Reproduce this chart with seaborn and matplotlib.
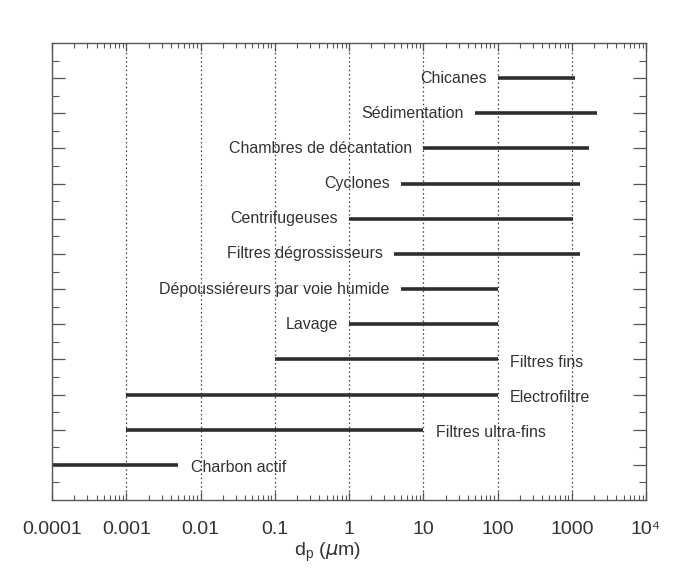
import numpy as np
import pandas as pd
import matplotlib.pyplot as plt
import seaborn as sns
from matplotlib.ticker import FixedLocator, LogLocator, NullFormatter

# Domaines d'efficacite des separateurs (diametre des particules en um)
methodes = [
    "Chicanes", "Sédimentation", "Chambres de décantation", "Cyclones",
    "Centrifugeuses", "Filtres dégrossisseurs", "Dépoussiéreurs par voie humide",
    "Lavage", "Filtres fins", "Electrofiltre", "Filtres ultra-fins", "Charbon actif",
]
dp_min = [100, 50, 10, 5, 1, 4, 5, 1, 0.1, 0.001, 0.001, 0.0001]
dp_max = [1100, 2200, 1700, 1300, 1050, 1300, 100, 100, 100, 100, 10, 0.005]
# cote de l'etiquette : g = a gauche du trait, d = a droite
cote = ["g", "g", "g", "g", "g", "g", "g", "g", "d", "d", "d", "d"]

decades = [1e-4, 1e-3, 1e-2, 1e-1, 1, 10, 100, 1000, 1e4]
labels_x = ["0.0001", "0.001", "0.01", "0.1", "1", "10", "100", "1000", "10⁴"]

n = len(methodes)
rang = np.arange(n, 0, -1)

df = pd.DataFrame({
    "methode": methodes * 2,
    "rang": list(rang) * 2,
    "dp": dp_min + dp_max,
})

sns.set_theme(style="white")
plt.rcParams["font.family"] = ["Liberation Sans", "DejaVu Sans"]
plt.rcParams["lines.solid_capstyle"] = "butt"

TRAIT = "#2e2e2e"
TEXTE = "#333333"
CADRE = "#555555"

fig = plt.figure(figsize=(6.95, 5.86), dpi=100)
ax = fig.add_axes([52 / 695, 86 / 586, 594 / 695, 457 / 586])
ax.set_xscale("log")

sns.lineplot(data=df, x="dp", y="rang", units="methode", estimator=None,
             sort=False, color=TRAIT, lw=2.6, ax=ax, legend=False)

for nom, x0, x1, y, c in zip(methodes, dp_min, dp_max, rang, cote):
    if c == "g":
        ax.annotate(nom, (x0, y), xytext=(-8, 0), textcoords="offset points",
                    ha="right", va="center", fontsize=11.5, color=TEXTE)
    else:
        ax.annotate(nom, (x1, y), xytext=(9, -2), textcoords="offset points",
                    ha="left", va="center", fontsize=11.5, color=TEXTE)

ax.set_xlim(1e-4, 1e4)
ax.set_ylim(0, n + 1)

# grille verticale pointillee aux decades
for d in decades[1:-1]:
    ax.axvline(d, color="#3c3c3c", lw=0.9, ls=(0, (1.2, 2.2)), zorder=0)

ax.xaxis.set_major_locator(FixedLocator(decades))
ax.set_xticklabels(labels_x)
ax.xaxis.set_minor_locator(LogLocator(base=10, subs=np.arange(2, 10), numticks=20))
ax.xaxis.set_minor_formatter(NullFormatter())

ax.yaxis.set_major_locator(FixedLocator(np.arange(1, n + 1)))
ax.yaxis.set_minor_locator(FixedLocator(np.arange(0.5, n + 1, 1)))
ax.set_yticklabels([])

ax.tick_params(axis="x", which="major", direction="in", length=6, width=0.9,
               color=CADRE, top=True, bottom=True, labelsize=14,
               labelcolor=TEXTE, pad=15)
ax.tick_params(axis="x", which="minor", direction="in", length=3.5, width=0.8,
               color=CADRE, top=True, bottom=True)
ax.tick_params(axis="y", which="major", direction="in", length=9.5, width=0.9,
               color=CADRE, left=True, right=True)
ax.tick_params(axis="y", which="minor", direction="in", length=5, width=0.8,
               color=CADRE, left=True, right=True)

for s in ax.spines.values():
    s.set_color(CADRE)
    s.set_linewidth(1.0)

ax.set_ylabel("")
ax.set_xlabel("d$_\\mathregular{p}$ ($\\mu$m)", fontsize=14, color=TEXTE)
ax.xaxis.set_label_coords(0.463, -0.088)
ax.xaxis.label.set_va("top")

fig.savefig("out.png", dpi=100, facecolor="white")
